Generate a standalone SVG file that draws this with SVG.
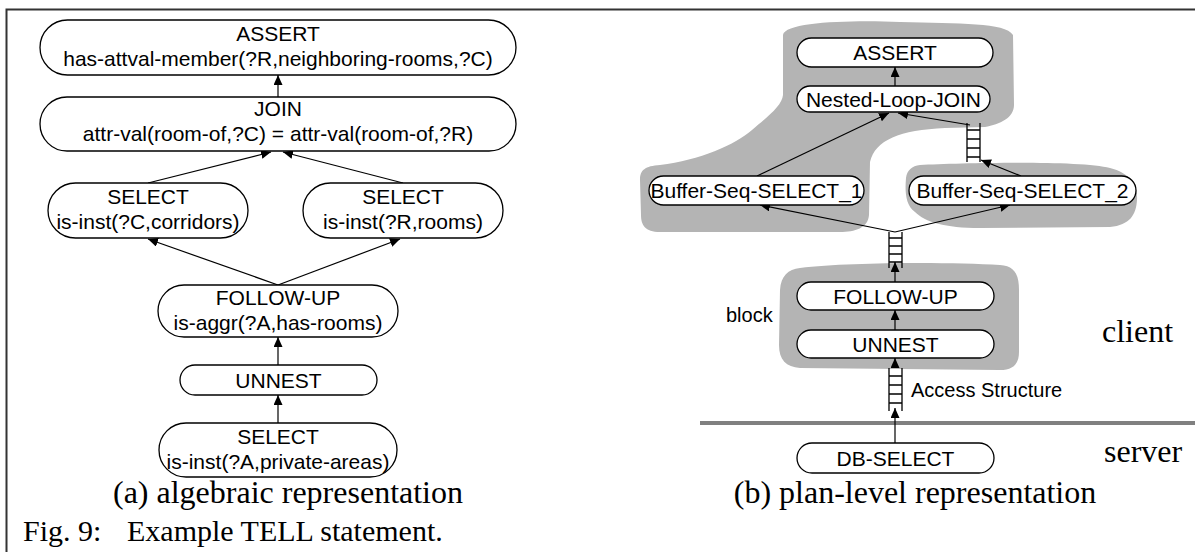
<svg xmlns="http://www.w3.org/2000/svg" width="1195" height="552" viewBox="0 0 1195 552">
<defs>
<marker id="ah" markerUnits="userSpaceOnUse" markerWidth="11" markerHeight="10" refX="10" refY="4.5" orient="auto">
<path d="M0,0 L10,4.5 L0,9 z" fill="#000"/>
</marker>
</defs>
<style>
.nd{fill:#fff;stroke:#000;stroke-width:1.3}
.t{font-family:"Liberation Sans",Arial,sans-serif;font-size:21px;fill:#000;text-anchor:middle}
.lb{font-family:"Liberation Sans",Arial,sans-serif;font-size:20px;fill:#000}
.sf{font-family:"Liberation Serif","Times New Roman",serif;font-size:32px;fill:#000}
.ed{stroke:#000;stroke-width:1.2;fill:none;marker-end:url(#ah)}
.blob{fill:#b4b4b4;stroke:none}
.lad{stroke:#000;stroke-width:1.3;fill:none}
</style>
<rect x="0" y="0" width="1195" height="552" fill="#fff"/>
<!-- frame -->
<path d="M6.5,552 L6.5,9.5 L1195,9.5" fill="none" stroke="#333" stroke-width="2"/>

<!-- gray blocks -->
<g id="blocks">
<path class="blob" d="M783,35 C785,22 850,20 900,22 C960,24 1005,22 1013,35 L1014,105 C1014,118 1000,124 985,127 L945,128 C900,130 875,140 870,162 L869,215 C868,228 855,232 840,232 L660,232 C645,232 641,225 641,215 L640,180 C640,170 645,166 660,165 C700,160 735,145 752,130 C770,115 782,105 783,95 Z"/>
<path class="blob" d="M920,165 C960,163 1080,160 1110,168 C1130,173 1138,185 1137,200 C1136,215 1130,225 1110,227 L980,228 C945,228 925,222 915,212 C905,205 905,190 906,178 C907,170 912,166 920,165 Z"/>
<path class="blob" d="M800,268 C850,262 950,262 1000,265 C1015,266 1019,275 1019,290 L1019,352 C1019,365 1012,370 1000,370 L800,368 C786,367 779,360 779,345 L780,290 C781,276 788,269 800,268 Z"/>
</g>

<!-- server line -->
<line x1="700" y1="423" x2="1195" y2="423" stroke="#808080" stroke-width="4"/>

<!-- queues (ladders) -->
<g id="queues" class="lad">
<path d="M967,123 V162 M980,123 V162 M967,130 H980 M967,139 H980 M967,148 H980 M967,157 H980"/>
<path d="M889,232 V268 M902,232 V268 M889,238 H902 M889,246 H902 M889,254 H902 M889,262 H902"/>
<path d="M889,368 V411 M902,368 V411 M889,376 H902 M889,385 H902 M889,394 H902 M889,403 H902"/>
</g>

<!-- connectors -->
<g id="connectors">
<line class="ed" x1="278" y1="97" x2="278" y2="75"/>
<line class="ed" x1="148" y1="183" x2="271" y2="152"/>
<line class="ed" x1="403" y1="183" x2="283" y2="152"/>
<line class="ed" x1="278" y1="285" x2="148" y2="239"/>
<line class="ed" x1="278" y1="285" x2="400" y2="239"/>
<line class="ed" x1="278" y1="365" x2="278" y2="337"/>
<line class="ed" x1="278" y1="423" x2="278" y2="395"/>

<line class="ed" x1="895" y1="86" x2="895" y2="67"/>
<line class="ed" x1="757" y1="176" x2="889" y2="113"/>
<line class="ed" x1="970" y1="125" x2="898" y2="113"/>
<line class="ed" x1="1021" y1="176" x2="981" y2="160"/>
<line class="ed" x1="895" y1="232" x2="760" y2="205"/>
<line class="ed" x1="895" y1="232" x2="1010" y2="205"/>
<line class="ed" x1="895" y1="282" x2="895" y2="262"/>
<line class="ed" x1="895" y1="330" x2="895" y2="310"/>
<line class="ed" x1="895" y1="368" x2="895" y2="358"/>
<line class="ed" x1="895" y1="443" x2="895" y2="408"/>
</g>

<!-- (a) nodes -->
<g id="a-assert">
<rect class="nd" x="40" y="20" width="476" height="55" rx="27.5"/>
<text class="t" x="278" y="41">ASSERT</text>
<text class="t" x="278" y="66">has-attval-member(?R,neighboring-rooms,?C)</text>
</g>
<g id="a-join">
<rect class="nd" x="40" y="97" width="476" height="54" rx="27"/>
<text class="t" x="278" y="116">JOIN</text>
<text class="t" x="278" y="141">attr-val(room-of,?C) = attr-val(room-of,?R)</text>
</g>
<g id="a-select-c">
<rect class="nd" x="48" y="183" width="200" height="55" rx="27.5"/>
<text class="t" x="148" y="204">SELECT</text>
<text class="t" x="148" y="229">is-inst(?C,corridors)</text>
</g>
<g id="a-select-r">
<rect class="nd" x="303" y="183" width="200" height="55" rx="27.5"/>
<text class="t" x="403" y="204">SELECT</text>
<text class="t" x="403" y="229">is-inst(?R,rooms)</text>
</g>
<g id="a-followup">
<rect class="nd" x="158" y="285" width="240" height="52" rx="26"/>
<text class="t" x="278" y="305">FOLLOW-UP</text>
<text class="t" x="278" y="330">is-aggr(?A,has-rooms)</text>
</g>
<g id="a-unnest">
<rect class="nd" x="180" y="365" width="197" height="30" rx="15"/>
<text class="t" x="278.5" y="388">UNNEST</text>
</g>
<g id="a-select-a">
<rect class="nd" x="159" y="423" width="238" height="54" rx="27"/>
<text class="t" x="278" y="444">SELECT</text>
<text class="t" x="278" y="469">is-inst(?A,private-areas)</text>
</g>

<!-- (b) nodes -->
<g id="b-assert">
<rect class="nd" x="797" y="38" width="196" height="29" rx="14.5"/>
<text class="t" x="895" y="60">ASSERT</text>
</g>
<g id="b-nlj">
<rect class="nd" x="797" y="86" width="193" height="26" rx="13"/>
<text class="t" x="893.5" y="106.5">Nested-Loop-JOIN</text>
</g>
<g id="b-bss1">
<rect class="nd" x="649" y="176" width="215" height="29" rx="14.5"/>
<text class="t" x="756.5" y="198">Buffer-Seq-SELECT_1</text>
</g>
<g id="b-bss2">
<rect class="nd" x="909" y="176" width="227" height="29" rx="14.5"/>
<text class="t" x="1022.5" y="198">Buffer-Seq-SELECT_2</text>
</g>
<g id="b-followup">
<rect class="nd" x="797" y="282" width="197" height="28" rx="14"/>
<text class="t" x="895.5" y="303.5">FOLLOW-UP</text>
</g>
<g id="b-unnest">
<rect class="nd" x="797" y="330" width="197" height="28" rx="14"/>
<text class="t" x="895.5" y="351.5">UNNEST</text>
</g>
<g id="b-dbselect">
<rect class="nd" x="797" y="443" width="197" height="30" rx="15"/>
<text class="t" x="895.5" y="465.5">DB-SELECT</text>
</g>

<!-- labels -->
<text class="lb" x="726" y="322">block</text>
<text class="lb" x="911" y="397">Access Structure</text>
<text class="sf" x="1102" y="342">client</text>
<text class="sf" x="1104" y="462">server</text>
<text class="sf" x="288" y="503" text-anchor="middle">(a) algebraic representation</text>
<text class="sf" x="915" y="503" text-anchor="middle">(b) plan-level representation</text>
<text class="sf" x="23" y="541" style="font-size:30px">Fig. 9:</text>
<text class="sf" x="127" y="541" style="font-size:30px">Example TELL statement.</text>
</svg>
